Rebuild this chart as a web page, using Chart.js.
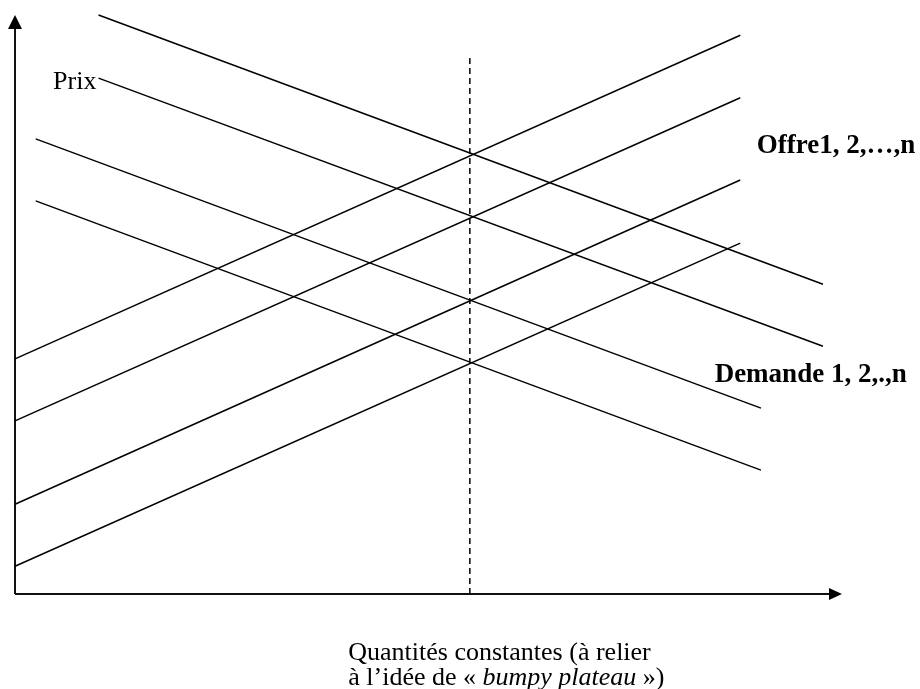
<!DOCTYPE html>
<html>
<head>
<meta charset="utf-8">
<script src="https://cdn.jsdelivr.net/npm/chart.js@4"></script>
<style>
  html, body { margin: 0; padding: 0; background: #fff; }
  canvas { display: block; }
</style>
</head>
<body>
<canvas id="myChart" width="920" height="689"></canvas>
<script>
// quantities (x) and prices (y), both on a 0..100 scale
var offreX = [0, 87.7];
var offre1 = [40.6, 96.5];
var offre2 = [29.9, 85.7];
var offre3 = [15.5, 71.5];
var offre4 = [4.8, 60.6];

var demandeX12 = [10.1, 97.7];
var demande1 = [100, 53.5];
var demande2 = [89.1, 42.8];
var demandeX34 = [2.5, 90.2];
var demande3 = [78.6, 32.1];
var demande4 = [67.9, 21.4];

var quantiteConstante = 55.0;
var plateauY = [0, 93.1];

function pts(xs, ys) {
    return xs.map(function(x, i) { return {x: x, y: ys[i]}; });
}

function line(data, dashed) {
    return {
        data: data,
        showLine: true,
        borderColor: '#000',
        borderWidth: 1.5,
        borderDash: dashed ? [6, 4] : [],
        pointRadius: 0,
        fill: false,
        tension: 0,
        clip: false
    };
}

// axes with arrow heads, drawn from the scales
var axesPlugin = {
    id: 'axes',
    beforeDatasetsDraw: function(chart) {
        var c = chart.ctx, xs = chart.scales.x, ys = chart.scales.y;
        var x0 = xs.getPixelForValue(0), y0 = ys.getPixelForValue(0);
        var xEnd = xs.getPixelForValue(100), yEnd = ys.getPixelForValue(100);
        c.save();
        c.strokeStyle = '#111';
        c.fillStyle = '#000';
        c.lineWidth = 2;
        c.beginPath();
        c.moveTo(x0, y0); c.lineTo(xEnd - 10, y0);
        c.moveTo(x0, y0); c.lineTo(x0, yEnd + 10);
        c.stroke();
        c.beginPath();
        c.moveTo(xEnd, y0); c.lineTo(xEnd - 13, y0 - 6); c.lineTo(xEnd - 13, y0 + 6);
        c.closePath(); c.fill();
        c.beginPath();
        c.moveTo(x0, yEnd); c.lineTo(x0 - 7, yEnd + 14); c.lineTo(x0 + 7, yEnd + 14);
        c.closePath(); c.fill();
        c.restore();
    },
    afterDatasetsDraw: function(chart) {
        var c = chart.ctx, xs = chart.scales.x, ys = chart.scales.y;
        var serif = '"Liberation Serif", "Times New Roman", serif';
        function txt(s, x, y, font) {
            c.font = font;
            c.fillText(s, xs.getPixelForValue(x), ys.getPixelForValue(y));
        }
        c.save();
        c.fillStyle = '#000';
        c.textBaseline = 'alphabetic';
        c.textAlign = 'left';
        txt('Prix', 4.6, 87.2, '26px ' + serif);
        txt('Offre1, 2,\u2026,n', 89.7, 76.2, 'bold 27px ' + serif);
        txt('Demande 1, 2,.,n', 84.6, 36.6, 'bold 27px ' + serif);
        txt('Quantit\u00e9s constantes (\u00e0 relier', 40.3, -11.4, '26px ' + serif);
        // second line: mixed upright / italic
        var px = xs.getPixelForValue(40.3), py = ys.getPixelForValue(-15.8);
        var parts = [['\u00e0 l\u2019id\u00e9e de \u00ab ', ''], ['bumpy plateau', 'italic '], [' \u00bb)', '']];
        parts.forEach(function(p) {
            c.font = p[1] + '26px ' + serif;
            c.fillText(p[0], px, py);
            px += c.measureText(p[0]).width;
        });
        c.restore();
    }
};

var ctx = document.getElementById('myChart').getContext('2d');
var chart = new Chart(ctx, {
    type: 'scatter',
    data: {
        datasets: [
            line(pts(offreX, offre1)),
            line(pts(offreX, offre2)),
            line(pts(offreX, offre3)),
            line(pts(offreX, offre4)),
            line(pts(demandeX12, demande1)),
            line(pts(demandeX12, demande2)),
            line(pts(demandeX34, demande3)),
            line(pts(demandeX34, demande4)),
            line(pts([quantiteConstante, quantiteConstante], plateauY), true)
        ]
    },
    options: {
        responsive: false,
        animation: false,
        layout: { padding: { left: 15, top: 15, right: 78, bottom: 95 } },
        plugins: { legend: { display: false }, tooltip: { enabled: false } },
        scales: {
            x: { type: 'linear', min: 0, max: 100, display: false },
            y: { type: 'linear', min: 0, max: 100, display: false }
        }
    },
    plugins: [axesPlugin]
});
</script>
</body>
</html>
